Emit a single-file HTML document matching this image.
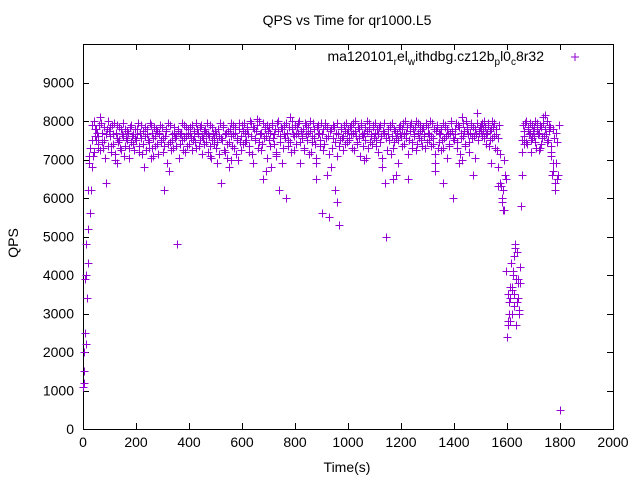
<!DOCTYPE html>
<html><head><meta charset="utf-8"><style>
body{margin:0;background:#fff;}
svg text{font-family:"Liberation Sans",sans-serif;font-size:14px;fill:#000;}
</style></head><body>
<svg id="chart" width="640" height="480" xmlns="http://www.w3.org/2000/svg">
<rect x="0" y="0" width="640" height="480" fill="#fff"/>
<text x="347" y="25" text-anchor="middle">QPS vs Time for qr1000.L5</text>
<text transform="translate(18,243) rotate(-90)" text-anchor="middle">QPS</text>
<text x="347" y="472" text-anchor="middle">Time(s)</text>
<g id="axes"></g>
<g id="marks"></g>
<g>
<text x="544" y="61" text-anchor="end">ma120101<tspan font-size="10" dy="4">r</tspan><tspan dy="-4">el</tspan><tspan font-size="10" dy="4">w</tspan><tspan dy="-4">ithdbg.cz12b</tspan><tspan font-size="10" dy="4">p</tspan><tspan dy="-4">l0</tspan><tspan font-size="10" dy="4">c</tspan><tspan dy="-4">8r32</tspan></text>
<path d="M571 57h8M575 53v8" stroke="#9400d3" stroke-width="1"/>
</g>
</svg>
<script>
const xTicks=[0,200,400,600,800,1000,1200,1400,1600,1800,2000];
const yTicks=[0,1000,2000,3000,4000,5000,6000,7000,8000,9000];
const qps=[1100,1500,2200,3400,4300,5600,6200,6800,7200,7600,7800,7400,7900,8100,7700,7300,7500,6400,7800,8000,
7600,7200,7900,7400,7000,7700,7900,7500,7300,7800,7600,7100,7800,7500,7700,7300,7900,7600,7400,7800,
7500,7800,7200,7700,7900,7400,6800,7600,7800,7500,7300,7900,7700,7100,7600,7800,7400,7700,7900,7500,
7200,6200,7600,7800,7400,6700,7900,7500,7300,7700,7600,4800,7800,7400,7700,7500,7900,7200,7600,7800,
7400,7700,7900,7500,7600,7300,7800,7700,7500,7900,7600,7400,7800,7700,7200,7600,7900,7500,7700,7400,
7300,6900,7800,7600,6400,7500,7900,7200,7700,7400,6800,7800,7600,7900,7300,7700,7500,7000,7800,7600,
7900,7400,7700,7500,7800,7200,8000,7600,6900,7800,7500,7900,7300,8000,7700,7400,6500,7800,7600,7900,
7500,7700,6800,7900,7400,7800,7100,8000,6200,7600,7800,7300,7900,6000,7700,7500,8100,7200,7800,7600,
7900,7400,7700,8000,6900,7600,7800,7300,7900,7500,7700,8000,7200,7600,7800,7400,6500,7900,7700,7500,
5600,7800,7400,7900,6600,7600,5500,7800,7300,7900,6200,7700,5900,5300,7500,7800,7600,7900,7400,7700,
7800,7500,7900,7300,7700,8000,7600,7400,7800,7100,7900,7600,7700,7500,8000,7300,7800,7600,7400,7900,
7700,7500,7800,7200,7900,7600,6800,7700,6400,5000,7800,7500,7900,7600,7300,7800,6600,7700,7500,7900,
7600,7800,7400,8000,7700,6500,7500,7900,7300,7800,7600,8000,7400,7700,7900,7500,7800,7600,7300,7900,
7700,7500,8000,7600,7400,7800,6700,7900,7300,7700,7800,7500,6400,7900,7600,7800,7400,7700,8000,6000,
7500,7800,7300,7900,6900,7700,8100,7600,7400,8000,7800,7200,7700,7900,6600,7600,7800,8200,7500,7700,
7900,7600,7800,8000,7400,7700,7900,7500,7800,8000,7600,7300,7800,6800,7900,6400,5900,6200,7000,6500,
2400,3500,2800,4300,3600,3200,4800,2700,3900,3000,4200,7200,7900,7600,8000,7400,7800,7700,7500,7900,
7600,8000,7300,7800,7700,7900,7400,8100,7600,7800,8000,7500,7900,7200,6600,7800,6200,7700,6500,7900,
500];
const qps2=[1200,2500,4000,5200,6900,7300,7900,7100,8000,7500,7700,7600,7250,7950,7450,7850,7050,7650,7350,7750,
7850,7350,7650,7950,7150,7550,7450,7850,7250,7650,7950,7350,7550,7750,7050,7850,7450,7650,7250,7550,
7650,7950,7350,7550,7150,7750,7850,7250,7650,7450,7950,7050,7550,7850,7350,7750,7150,7650,7450,7850,
7550,7350,7750,6900,7950,7450,7250,7650,7850,7550,7350,7750,7050,7650,7950,7250,7550,7850,7350,7650,
7850,7550,7250,7750,7450,7950,7650,7350,7850,7150,7550,7750,7450,7950,7650,7350,7050,7850,7550,7750,
7650,7450,7150,7950,7550,7850,7250,7650,7050,7750,7450,7950,7350,7650,7850,7150,7550,7950,7450,7250,
7750,7950,7450,7850,7650,7350,7950,7150,7850,7550,7750,8050,7450,7650,7250,7950,7550,7850,7050,7750,
7850,7350,7950,7550,7650,7150,7950,7750,7450,7850,6900,7650,7550,7950,7350,7850,7450,8000,7650,7250,
7650,7850,7950,7450,7750,7550,7250,7950,7650,7850,7150,7750,7450,7950,7550,7050,7850,7650,7350,7950,
7650,7250,7950,7550,7850,7150,7750,6800,7550,7850,7450,7950,7650,7350,7850,7550,7250,7750,7950,7450,
7550,7850,7650,7950,7250,7750,7450,7850,7550,7950,7650,7350,7850,7050,7750,7950,7450,7650,7850,7550,
7950,7350,7650,7850,7450,7050,7750,7950,7550,7250,7650,7850,7150,7950,7450,7750,7550,6900,7850,7650,
7350,7950,7650,7550,7850,7150,7750,7950,7450,7650,7850,7250,7950,7550,7750,7350,7850,7650,7950,7450,
7850,7650,7350,7950,7550,7150,7750,7850,7450,7650,7250,7950,7550,7850,7050,7650,7350,7950,7750,7550,
7650,7950,7450,7850,7150,7550,7950,7750,7350,7850,7650,7450,7950,7550,7850,7050,7650,7950,7750,7850,
7750,7950,7550,7850,7650,7950,7350,7750,7550,7850,7950,7650,7250,7550,7150,6300,6000,5700,6600,4100,
2800,3300,3700,3000,4100,3500,3900,4600,3400,3800,5800,7500,7750,7950,7450,7850,7650,7950,7550,7750,
7850,7450,7950,7650,7250,7850,7550,7950,8150,7650,7450,7750,7850,7350,6900,7550,6400,7450,6600];
const extraTimes=[3,8,12,18,22,33,47,58,72,130,260,480,560,690,730,880,960,1060,1170,1330,1360,1430,1540,1565,1585,1603,1608,1613,1618,1622,1627,1632,1637,1642,1647,1655,1665,1690,1725,1745,1765,1775,1785,1792];
const extraQps=[2000,3900,4800,6200,7100,7500,7800,7300,7700,6900,7300,7100,7000,6700,7200,6900,7100,7000,6500,6900,7300,7000,6900,6300,5700,2700,3000,3400,3700,4000,4500,4700,3300,3800,3100,6600,7400,7200,7300,7800,7100,6700,6900,6600];
const X0=83,X1=613,Y0=429,YT=44,XMAX=2000,YMAX=10000;
const sx=v=>X0+(X1-X0)*v/XMAX;
const sy=v=>Y0-(Y0-YT)*v/YMAX;
const NS='http://www.w3.org/2000/svg';
const axes=document.getElementById('axes');
const marks=document.getElementById('marks');
function mk(tag,attrs,parent){const e=document.createElementNS(NS,tag);for(const k in attrs)e.setAttribute(k,attrs[k]);parent.appendChild(e);return e;}
const frame=mk('rect',{x:X0+0.5,y:YT+0.5,width:X1-X0,height:Y0-YT,fill:'none',stroke:'#000','stroke-width':1},axes);


xTicks.forEach(v=>{
  const x=Math.round(sx(v))+0.5;
  const t=mk('path',{d:`M${x} ${Y0}v-6M${x} ${YT}v6`,stroke:'#000'},axes);
  
  
  const l=mk('text',{x:sx(v),y:Y0+18,'text-anchor':'middle'},axes);
  l.textContent=v;
  
  
});
yTicks.forEach(v=>{
  const y=Math.round(sy(v))+0.5;
  const t=mk('path',{d:`M${X0} ${y}h6M${X1} ${y}h-6`,stroke:'#000'},axes);
  
  
  const l=mk('text',{x:X0-9,y:sy(v)+5,'text-anchor':'end'},axes);
  l.textContent=v;
  
  
});
function plus(t,v,col){
  const x=Math.round(sx(t))+0.5,y=Math.round(sy(v))+0.5;
  const p=mk('path',{d:`M${x-4} ${y}h8M${x} ${y-4}v8`,stroke:col,'stroke-width':1},marks);
  
  
}
for(let i=0;i<qps.length;i++)plus(i*5,qps[i],'#9400d3');
for(let i=0;i<qps2.length;i++)plus(i*5+2.5,qps2[i],'#9400d3');
for(let i=0;i<extraQps.length;i++)plus(extraTimes[i],extraQps[i],'#9400d3');
</script>
</body></html>
